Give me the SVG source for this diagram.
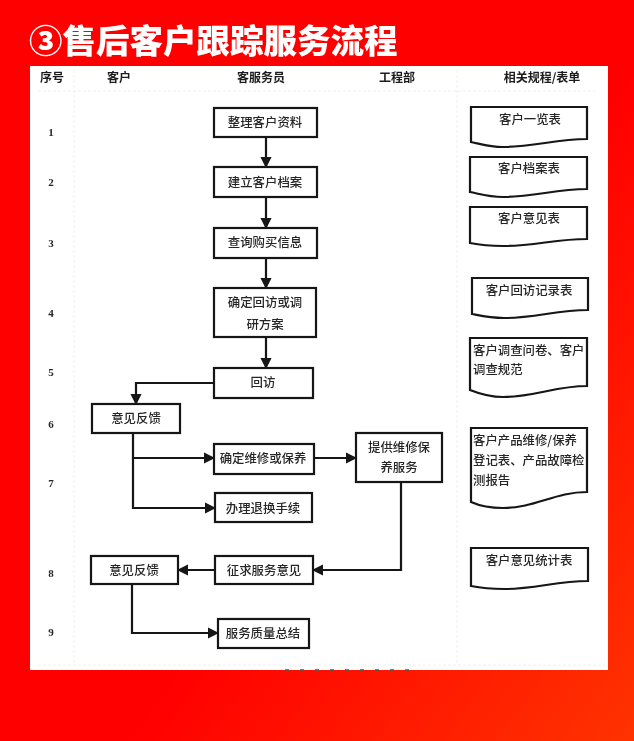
<svg xmlns="http://www.w3.org/2000/svg" width="634" height="741" viewBox="0 0 634 741">
<style>
text{font-family:"Noto Sans CJK SC","Liberation Sans",sans-serif;fill:#262626;font-size:12.4px;font-weight:500;text-anchor:middle}
.l{text-anchor:start}
.h{font-weight:700;fill:#1c1c1c;font-size:12px}
.n{font-weight:700;font-size:11px;font-family:"Liberation Serif",serif}
.t{font-size:33.5px;font-weight:900;fill:#fff;text-anchor:start}
.b{fill:#fff;stroke:#141414;stroke-width:2.2}
.c{fill:none;stroke:#141414;stroke-width:2.2}
.f{fill:none;stroke:#f0f0f0;stroke-width:1;stroke-dasharray:3 2}
</style>
<defs>
<linearGradient id="bg" x1="0.55" y1="0.6" x2="1" y2="1"><stop offset="0" stop-color="#ff0000"/><stop offset="1" stop-color="#ff3300"/></linearGradient>
<marker id="a" viewBox="0 0 10 10" refX="9" refY="5" markerWidth="5.2" markerHeight="5.2" orient="auto"><path d="M0 0L10 5L0 10Z" fill="#141414"/></marker>
<filter id="s" x="-2%" y="-2%" width="104%" height="104%"><feGaussianBlur stdDeviation="0.4"/></filter>
</defs>
<rect width="634" height="741" fill="url(#bg)"/>
<text id="title" class="t" x="29" y="53" filter="url(#s)">③售后客户跟踪服务流程</text>
<rect id="panel" x="30" y="66" width="578" height="604" fill="#fff"/>
<g filter="url(#s)">
<g id="grid">
<path class="f" d="M38 91H595M38 665H605M74 70V665M457 70V665"/>
<path d="M285 670H420" fill="none" stroke="#555" stroke-width="1.5" stroke-dasharray="4 11"/>
</g>
<g id="headers">
<text class="h" x="52" y="82">序号</text>
<text class="h" x="119" y="82">客户</text>
<text class="h" x="261" y="82">客服务员</text>
<text class="h" x="397" y="82">工程部</text>
<text class="h" x="542" y="82">相关规程/表单</text>
</g>
<g id="rows">
<text class="n" x="51" y="136">1</text>
<text class="n" x="51" y="186">2</text>
<text class="n" x="51" y="247">3</text>
<text class="n" x="51" y="317">4</text>
<text class="n" x="51" y="376">5</text>
<text class="n" x="51" y="428">6</text>
<text class="n" x="51" y="487">7</text>
<text class="n" x="51" y="577">8</text>
<text class="n" x="51" y="636">9</text>
</g>
<g id="connectors">
<path class="c" marker-end="url(#a)" d="M266 137V167"/>
<path class="c" marker-end="url(#a)" d="M266 197V228"/>
<path class="c" marker-end="url(#a)" d="M266 258V288"/>
<path class="c" marker-end="url(#a)" d="M266 337V368"/>
<path class="c" marker-end="url(#a)" d="M214 383H136V404"/>
<path class="c" marker-end="url(#a)" d="M133 433V458H214"/>
<path class="c" marker-end="url(#a)" d="M133 458V508H215"/>
<path class="c" marker-end="url(#a)" d="M314 458H356"/>
<path class="c" marker-end="url(#a)" d="M401 482V570H313"/>
<path class="c" marker-end="url(#a)" d="M215 570H178"/>
<path class="c" marker-end="url(#a)" d="M132 584V633H218"/>
</g>
<g id="n1"><rect class="b" x="214" y="108" width="103" height="29"/><text x="265" y="127">整理客户资料</text></g>
<g id="n2"><rect class="b" x="214" y="167" width="103" height="30"/><text x="265" y="187">建立客户档案</text></g>
<g id="n3"><rect class="b" x="214" y="228" width="103" height="30"/><text x="265" y="247">查询购买信息</text></g>
<g id="n4"><rect class="b" x="214" y="288" width="102" height="49"/><text x="265" y="307">确定回访或调</text><text x="265" y="329">研方案</text></g>
<g id="n5"><rect class="b" x="214" y="368" width="99" height="30"/><text x="263" y="387">回访</text></g>
<g id="n6"><rect class="b" x="92" y="404" width="88" height="29"/><text x="136" y="423">意见反馈</text></g>
<g id="n7"><rect class="b" x="214" y="444" width="100" height="30"/><text x="263" y="463">确定维修或保养</text></g>
<g id="n8"><rect class="b" x="215" y="493" width="97" height="29"/><text x="263" y="513">办理退换手续</text></g>
<g id="n9"><rect class="b" x="356" y="433" width="86" height="49"/><text x="399" y="452">提供维修保</text><text x="399" y="472">养服务</text></g>
<g id="n10"><rect class="b" x="215" y="556" width="98" height="28"/><text x="264" y="575">征求服务意见</text></g>
<g id="n11"><rect class="b" x="91" y="556" width="87" height="28"/><text x="134" y="575">意见反馈</text></g>
<g id="n12"><rect class="b" x="218" y="619" width="91" height="29"/><text x="263" y="638">服务质量总结</text></g>
<g id="d1"><path class="b" d="M471 107H587V139C555 139 535 147 503 147C489 147 481 144 471 142Z"/><text x="530" y="124">客户一览表</text></g>
<g id="d2"><path class="b" d="M470 157H587V189C555 189 535 197 503 197C489 197 480 194 470 192Z"/><text x="529" y="173">客户档案表</text></g>
<g id="d3"><path class="b" d="M470 207H587V239C555 239 535 246 503 246C489 246 480 245 470 243Z"/><text x="529" y="223">客户意见表</text></g>
<g id="d4"><path class="b" d="M472 278H588V310C556 310 536 318 504 318C490 318 482 316 472 314Z"/><text x="529" y="295">客户回访记录表</text></g>
<g id="d5"><path class="b" d="M470 338H587V386C555 386 535 397 503 397C489 397 480 394 470 390Z"/><text class="l" x="473" y="355">客户调查问卷、客户</text><text class="l" x="473" y="374">调查规范</text></g>
<g id="d6"><path class="b" d="M471 428H587V492C555 492 535 508 503 508C489 508 480 506 471 502Z"/><text class="l" x="473" y="445">客户产品维修/保养</text><text class="l" x="473" y="465">登记表、产品故障检</text><text class="l" x="473" y="485">测报告</text></g>
<g id="d7"><path class="b" d="M471 548H588V581C556 581 536 589 504 589C490 589 481 588 471 586Z"/><text x="529" y="565">客户意见统计表</text></g>
</g>
</svg>
